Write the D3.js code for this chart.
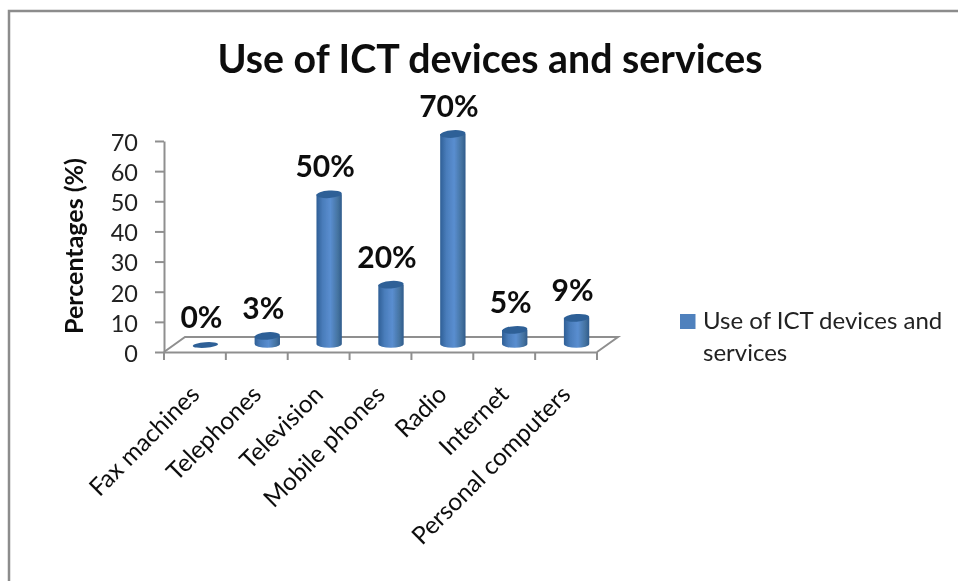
<!DOCTYPE html>
<html>
<head>
<meta charset="utf-8">
<script src="https://cdn.jsdelivr.net/npm/d3@7/dist/d3.min.js"></script>
<style>
  body { margin: 0; background: #fff; }
  svg { display: block; font-family: Lato, "Open Sans", sans-serif; }
</style>
</head>
<body>
<script>
/* DATA */
var categories = ["Fax machines", "Telephones", "Television", "Mobile phones", "Radio", "Internet", "Personal computers"];
var values = [0, 3, 50, 20, 70, 5, 9];
var yTicks = [0, 10, 20, 30, 40, 50, 60, 70];
var chartTitle = "Use of ICT devices and services";
var yTitle = "Percentages (%)";
var legendLines = ["Use of ICT devices and", "services"];

var width = 958, height = 581;
var axisColor = "#8f8f8f";

var svg = d3.select("body").append("svg")
  .attr("width", width)
  .attr("height", height);

var defs = svg.append("defs");

// Horizontal shading of the cylinders
var grad = defs.append("linearGradient").attr("id", "cyl");
grad.append("stop").attr("offset", "0%").attr("stop-color", "#2f5f96");
grad.append("stop").attr("offset", "25%").attr("stop-color", "#4a7dbb");
grad.append("stop").attr("offset", "55%").attr("stop-color", "#5a8ed0");
grad.append("stop").attr("offset", "85%").attr("stop-color", "#44729f");
grad.append("stop").attr("offset", "100%").attr("stop-color", "#2f5b8c");

defs.append("filter").attr("id", "soft")
  .append("feGaussianBlur").attr("stdDeviation", 0.45);

var root = svg.append("g").attr("filter", "url(#soft)");

// Outer frame, only top and left show
root.append("path")
  .attr("d", d3.line()([[958, 11], [9, 11], [9, 581]]))
  .attr("fill", "none")
  .attr("stroke", "#8c8c8c")
  .attr("stroke-width", 2.5);

// Scales
var x = d3.scaleBand().domain(categories).range([164, 597]);
var y = d3.scaleLinear().domain([0, 70]).range([352, 141]);

// 3D depth of the floor and of the bars on it
var depthX = 21, depthY = 15;
var barDx = 10.5, barDy = 7;
var barW = x.bandwidth() * 0.41;
var ry = 3.8;

// Floor
root.append("path")
  .attr("d", d3.line()([
    [x.range()[0], y(0)],
    [x.range()[0] + depthX, y(0) - depthY],
    [x.range()[1] + depthX, y(0) - depthY],
    [x.range()[1], y(0)]
  ]))
  .attr("fill", "none")
  .attr("stroke", axisColor)
  .attr("stroke-width", 2);

// Y axis
var axisY = root.append("g")
  .attr("transform", "translate(" + x.range()[0] + ",0)")
  .call(d3.axisLeft(y).tickValues(yTicks).tickSize(9).tickPadding(17).tickSizeOuter(0));
axisY.selectAll("line").attr("stroke", axisColor).attr("stroke-width", 2);
axisY.select(".domain").attr("stroke", axisColor).attr("stroke-width", 2);
axisY.selectAll("text")
  .attr("dy", "0.4em")
  .style("font-family", "Lato, sans-serif")
  .style("font-size", "23.5px")
  .attr("fill", "#222");

// X axis, labels hang from the band centres, ticks sit on the band edges
var axisX = root.append("g")
  .attr("transform", "translate(0," + y(0) + ")")
  .call(d3.axisBottom(x).tickSize(0).tickSizeOuter(0).tickPadding(0));
axisX.select(".domain").attr("stroke", axisColor).attr("stroke-width", 2);
axisX.selectAll(".tick text")
  .attr("text-anchor", "end")
  .attr("dy", null)
  .attr("y", 0)
  .attr("transform", "translate(6,44) rotate(-45)")
  .style("font-family", "Lato, sans-serif")
  .style("font-size", "24.5px")
  .attr("fill", "#111");

axisX.selectAll(".edge")
  .data(d3.range(categories.length + 1))
  .enter().append("line")
  .attr("class", "edge")
  .attr("x1", function (i) { return x.range()[0] + i * x.step(); })
  .attr("x2", function (i) { return x.range()[0] + i * x.step(); })
  .attr("y1", 0)
  .attr("y2", 8)
  .attr("stroke", axisColor)
  .attr("stroke-width", 2);

// Cylinders
var bars = root.selectAll(".bar")
  .data(categories)
  .enter().append("g")
  .attr("class", "bar")
  .attr("transform", function (d) {
    return "translate(" + (x(d) + x.bandwidth() / 2 + barDx) + "," + (-barDy) + ")";
  });

function cylinder(d, i) {
  var top = y(values[i]), r = barW / 2;
  var base = Math.max(top, y(0) - 1);
  return "M" + (-r) + "," + top +
    "L" + (-r) + "," + base +
    "A" + r + "," + ry + " 0 0 0 " + r + "," + base +
    "L" + r + "," + top + "Z";
}

bars.filter(function (d, i) { return values[i] > 0; })
  .append("path")
  .attr("d", function (d) { return cylinder(d, categories.indexOf(d)); })
  .attr("fill", "url(#cyl)");

bars.append("ellipse")
  .attr("cx", 0)
  .attr("cy", function (d, i) { return y(values[i]); })
  .attr("rx", barW / 2)
  .attr("ry", function (d, i) { return values[i] > 0 ? ry : 2.8; })
  .attr("transform", function (d, i) { return "rotate(-4 0 " + y(values[i]) + ")"; })
  .attr("fill", "#2f6197");

// Value labels
bars.append("text")
  .attr("x", -4)
  .attr("y", function (d, i) { return y(values[i]) - 17; })
  .attr("text-anchor", "middle")
  .attr("font-size", 30)
  .attr("font-weight", 700)
  .attr("fill", "#111")
  .text(function (d, i) { return values[i] + "%"; });

// Title
root.append("text")
  .attr("x", 490)
  .attr("y", 73)
  .attr("text-anchor", "middle")
  .attr("font-size", 39.3)
  .attr("font-weight", 700)
  .attr("fill", "#111")
  .text(chartTitle);

// Y axis title
root.append("text")
  .attr("transform", "translate(83,246) rotate(-90)")
  .attr("text-anchor", "middle")
  .attr("font-size", 25)
  .attr("font-weight", 700)
  .attr("fill", "#111")
  .text(yTitle);

// Legend
root.append("rect")
  .attr("x", 680)
  .attr("y", 314)
  .attr("width", 15.5)
  .attr("height", 15)
  .attr("fill", "#4f81bd");

root.selectAll(".legend")
  .data(legendLines)
  .enter().append("text")
  .attr("class", "legend")
  .attr("x", 703)
  .attr("y", function (d, i) { return 328.5 + i * 32; })
  .attr("font-size", 24)
  .attr("fill", "#222")
  .text(function (d) { return d; });
</script>
</body>
</html>
